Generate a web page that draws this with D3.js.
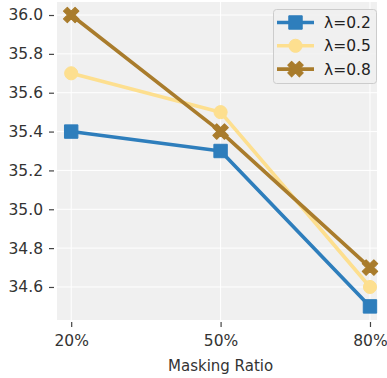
<!DOCTYPE html>
<html><head><meta charset="utf-8">
<script src="https://cdn.jsdelivr.net/npm/d3@7"></script>
<style>body{margin:0;background:#fff}svg{display:block;font-family:"DejaVu Sans",sans-serif}</style>
</head><body><svg id="c" width="387" height="378"></svg>
<script>
const categories = ["20%", "50%", "80%"];
const seriesNames = ["λ=0.2", "λ=0.5", "λ=0.8"];
const seriesA = [35.4, 35.3, 34.5];
const seriesB = [35.7, 35.5, 34.6];
const seriesC = [36.0, 35.4, 34.7];
const yTicks = [34.6, 34.8, 35.0, 35.2, 35.4, 35.6, 35.8, 36.0];
const xTitle = "Masking Ratio";

const colors = ["#2e7ebc", "#fddf8f", "#a97c2c"];
const symbols = [d3.symbolSquare, d3.symbolCircle, d3.symbolCross];
const series = [seriesA, seriesB, seriesC].map((v, i) => ({name: seriesNames[i], values: v, color: colors[i], sym: symbols[i], idx: i}));

const svg = d3.select("#c");
const L = 57, R = 377, T = 2, B = 320;
const x = d3.scaleLinear().domain([-0.095, 2.047]).range([L, R]);
const y = d3.scaleLinear().domain([34.43, 36.067]).range([B, T]);

svg.append("rect").attr("x", L).attr("y", T).attr("width", R - L).attr("height", B - T).attr("fill", "#f0f0f0");
// grid
svg.append("g").selectAll("line").data(yTicks).join("line")
  .attr("x1", L).attr("x2", R).attr("y1", d => y(d)).attr("y2", d => y(d))
  .attr("stroke", "#fff").attr("stroke-width", 1);
svg.append("g").selectAll("line").data(categories).join("line")
  .attr("y1", T).attr("y2", B).attr("x1", (d, i) => x(i)).attr("x2", (d, i) => x(i))
  .attr("stroke", "#fff").attr("stroke-width", 1);

// axes
const yAxis = d3.axisLeft(y).tickValues(yTicks).tickFormat(d3.format(".1f")).tickSize(5).tickPadding(6);
const gy = svg.append("g").attr("transform", `translate(${L - 3},0)`).call(yAxis);
const xAxis = d3.axisBottom(x).tickValues([0, 1, 2]).tickFormat(i => categories[i]).tickSize(5).tickPadding(8);
const gx = svg.append("g").attr("transform", `translate(0,${B + 2})`).call(xAxis);
[gy, gx].forEach(g => {
  g.select(".domain").remove();
  g.attr("font-size", null).attr("font-family", null);
  g.selectAll(".tick line").attr("stroke", "#444").attr("stroke-width", 1.2);
  g.selectAll(".tick text").attr("fill", "#333").style("font-size", "15.5px").style("font-family", "DejaVu Sans");
});
svg.append("text").attr("x", x(1)).attr("y", 371).attr("text-anchor", "middle")
  .attr("fill", "#333").style("font-size", "15px").text(xTitle);

// lines
const line = d3.line().x((d, i) => x(i)).y(d => y(d));
series.forEach(s => {
  svg.append("path").datum(s.values).attr("d", line).attr("fill", "none")
    .attr("stroke", s.color).attr("stroke-width", 3.6).attr("stroke-linejoin", "round");
});
function marker(g, s, cx, cy) {
  const size = s.idx === 0 ? 180 : s.idx === 1 ? 135 : 150;
  g.append("path").attr("d", d3.symbol().type(s.sym).size(size)())
    .attr("transform", `translate(${cx},${cy})` + (s.idx === 2 ? " rotate(45)" : ""))
    .attr("fill", s.color).attr("stroke", s.color).attr("stroke-width", 1).attr("stroke-linejoin", "round");
}
series.forEach(s => {
  const g = svg.append("g");
  s.values.forEach((v, i) => marker(g, s, x(i), y(v)));
});

// legend
const lg = svg.append("g");
lg.append("rect").attr("x", 273.5).attr("y", 9.5).attr("width", 103).attr("height", 74).attr("rx", 3)
  .attr("fill", "#f0f0f0").attr("fill-opacity", 0.85).attr("stroke", "#ccc").attr("stroke-width", 1);
series.forEach((s, i) => {
  const cy = 22.5 + i * 23.3;
  lg.append("line").attr("x1", 277).attr("x2", 314).attr("y1", cy).attr("y2", cy)
    .attr("stroke", s.color).attr("stroke-width", 3.6);
  marker(lg, s, 295.5, cy);
  lg.append("text").attr("x", 324).attr("y", cy + 5.6).style("font-size", "15.5px").attr("fill", "#222").text(s.name);
});
</script></body></html>
